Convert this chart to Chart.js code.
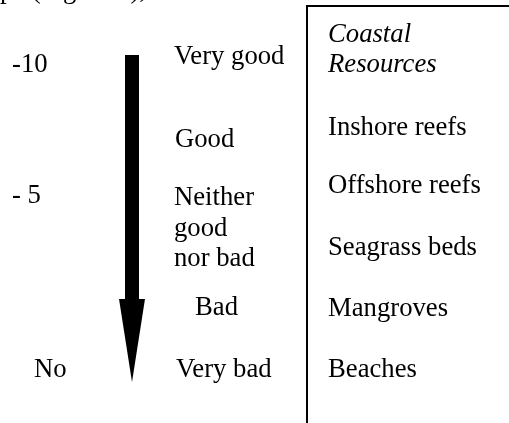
<!DOCTYPE html>
<html>
<head>
<meta charset="utf-8">
<script src="https://cdn.jsdelivr.net/npm/chart.js@4"></script>
<style>
  html, body { margin: 0; padding: 0; background: #fff; }
  #wrap { width: 509px; height: 423px; }
</style>
</head>
<body>
<div id="wrap"><canvas id="chart"></canvas></div>
<script>
// diagram content
const scaleLabels = ['-10', '- 5', 'No'];
const ratings = ['Very good', 'Good', 'Neither\ngood\nnor bad', 'Bad', 'Very bad'];
const resourceHeader = ['Coastal', 'Resources'];
const resources = ['Inshore reefs', 'Offshore reefs', 'Seagrass beds', 'Mangroves', 'Beaches'];
const captionText = 'pe (Figure 4),';

// layout (in scale units, y measured downward)
const scaleX = [12, 12, 34];
const scaleY = [72, 203, 377];
const ratingX = [174, 175, 174, 195, 176];
const ratingY = [64, 147, 205, 315, 377];
const ratingLineGap = 30.5;
const resX = 328;
const headerY = [42, 72];
const resY = [135, 193, 255, 316, 377];
const arrow = { x: 132, top: 55, headTop: 299, tip: 382, shaftW: 14, headW: 26 };
const box = { left: 307, top: 6 };

const FONT = '26.7px "Liberation Serif", "Times New Roman", serif';

const diagramPlugin = {
  id: 'diagram',
  afterDraw(chart) {
    const ctx = chart.ctx;
    const xs = chart.scales.x, ys = chart.scales.y;
    const px = v => xs.getPixelForValue(v);
    const py = v => ys.getPixelForValue(v);
    ctx.save();
    ctx.fillStyle = '#000';
    ctx.strokeStyle = '#000';
    ctx.textBaseline = 'alphabetic';
    ctx.textAlign = 'left';
    ctx.font = FONT;

    // cut-off caption line at the very top
    ctx.fillText(captionText, px(0), py(-2.5));

    // left scale numbers
    scaleLabels.forEach((t, i) => ctx.fillText(t, px(scaleX[i]), py(scaleY[i])));

    // ratings
    ratings.forEach((t, i) => {
      t.split('\n').forEach((line, j) => {
        ctx.fillText(line, px(ratingX[i]), py(ratingY[i] + j * ratingLineGap));
      });
    });

    // arrow
    const a = arrow;
    ctx.fillRect(px(a.x - a.shaftW / 2), py(a.top), px(a.x + a.shaftW / 2) - px(a.x - a.shaftW / 2), py(a.headTop) - py(a.top));
    ctx.beginPath();
    ctx.moveTo(px(a.x - a.headW / 2), py(a.headTop));
    ctx.lineTo(px(a.x + a.headW / 2), py(a.headTop));
    ctx.lineTo(px(a.x), py(a.tip));
    ctx.closePath();
    ctx.fill();

    // box
    ctx.lineWidth = 2;
    ctx.beginPath();
    ctx.moveTo(px(box.left), py(423));
    ctx.lineTo(px(box.left), py(box.top));
    ctx.lineTo(px(509), py(box.top));
    ctx.stroke();

    // resources column
    ctx.font = 'italic ' + FONT;
    resourceHeader.forEach((t, i) => ctx.fillText(t, px(resX), py(headerY[i])));
    ctx.font = FONT;
    resources.forEach((t, i) => ctx.fillText(t, px(resX), py(resY[i])));
    ctx.restore();
  }
};

new Chart(document.getElementById('chart'), {
  type: 'scatter',
  data: { datasets: [{ data: [] }] },
  options: {
    responsive: true,
    maintainAspectRatio: false,
    animation: false,
    layout: { padding: 0 },
    plugins: { legend: { display: false }, tooltip: { enabled: false } },
    scales: {
      x: { type: 'linear', min: 0, max: 509, display: false },
      y: { type: 'linear', min: 0, max: 423, reverse: true, display: false }
    }
  },
  plugins: [diagramPlugin]
});
</script>
</body>
</html>
